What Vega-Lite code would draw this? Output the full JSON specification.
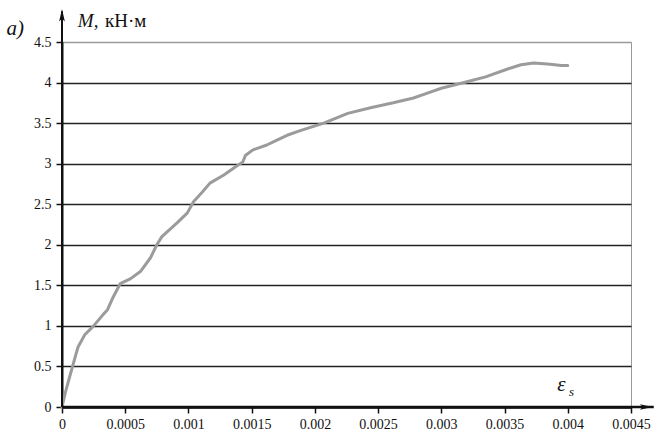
{
  "$schema": "https://vega.github.io/schema/vega-lite/v6.json",
  "width": 569,
  "height": 365,
  "autosize": "none",
  "padding": {"left": 62, "top": 42, "right": 27, "bottom": 32},
  "background": "white",
  "config": {
    "view": {"stroke": "#9a9a9a", "strokeWidth": 1},
    "font": "Liberation Serif"
  },
  "layer": [
    {
      "data": {
        "values": [
          {"eps": 0, "M": 0},
          {"eps": 0.00003, "M": 0.2},
          {"eps": 0.00006, "M": 0.37},
          {"eps": 0.000087, "M": 0.52},
          {"eps": 0.00011, "M": 0.65},
          {"eps": 0.000127, "M": 0.74},
          {"eps": 0.00018, "M": 0.89},
          {"eps": 0.00025, "M": 1.0},
          {"eps": 0.00032, "M": 1.13},
          {"eps": 0.00036, "M": 1.2},
          {"eps": 0.0004, "M": 1.34},
          {"eps": 0.00046, "M": 1.52},
          {"eps": 0.00054, "M": 1.58},
          {"eps": 0.00062, "M": 1.67},
          {"eps": 0.0007, "M": 1.84},
          {"eps": 0.00075, "M": 2.0},
          {"eps": 0.00079, "M": 2.1},
          {"eps": 0.00091, "M": 2.27},
          {"eps": 0.00099, "M": 2.39},
          {"eps": 0.00104, "M": 2.53},
          {"eps": 0.00111, "M": 2.65},
          {"eps": 0.00117, "M": 2.76},
          {"eps": 0.00128, "M": 2.86},
          {"eps": 0.00137, "M": 2.96},
          {"eps": 0.00143, "M": 3.02},
          {"eps": 0.00145, "M": 3.1},
          {"eps": 0.00151, "M": 3.17},
          {"eps": 0.00162, "M": 3.23},
          {"eps": 0.0017, "M": 3.29},
          {"eps": 0.00178, "M": 3.35},
          {"eps": 0.00189, "M": 3.41},
          {"eps": 0.00207, "M": 3.5},
          {"eps": 0.00226, "M": 3.62},
          {"eps": 0.00244, "M": 3.69},
          {"eps": 0.00262, "M": 3.75},
          {"eps": 0.00278, "M": 3.81},
          {"eps": 0.00289, "M": 3.87},
          {"eps": 0.003, "M": 3.93},
          {"eps": 0.00318, "M": 4.0},
          {"eps": 0.00335, "M": 4.07},
          {"eps": 0.00353, "M": 4.17},
          {"eps": 0.00363, "M": 4.22},
          {"eps": 0.00373, "M": 4.24},
          {"eps": 0.00384, "M": 4.23},
          {"eps": 0.00395, "M": 4.21},
          {"eps": 0.004, "M": 4.21}
        ]
      },
      "mark": {"type": "line", "color": "#9b9b9b", "strokeWidth": 3, "strokeCap": "round", "strokeJoin": "round"},
      "encoding": {
        "x": {
          "field": "eps",
          "type": "quantitative",
          "scale": {"domain": [0, 0.0045], "nice": false, "zero": true},
          "axis": {
            "title": null,
            "values": [0, 0.0005, 0.001, 0.0015, 0.002, 0.0025, 0.003, 0.0035, 0.004, 0.0045],
            "format": "~g",
            "grid": false,
            "domainColor": "#111",
            "domainWidth": 2.5,
            "tickColor": "#111",
            "tickWidth": 1.5,
            "tickSize": 6,
            "labelFont": "Liberation Serif",
            "labelFontSize": 14,
            "labelColor": "#111",
            "labelPadding": 4,
            "labelFlush": false
          }
        },
        "y": {
          "field": "M",
          "type": "quantitative",
          "scale": {"domain": [0, 4.5], "nice": false},
          "axis": {
            "title": null,
            "values": [0, 0.5, 1, 1.5, 2, 2.5, 3, 3.5, 4, 4.5],
            "format": "~g",
            "grid": true,
            "gridColor": {"condition": {"test": "datum.value >= 4.5", "value": "#9a9a9a"}, "value": "#222"},
            "gridWidth": 1.6,
            "gridOpacity": 1,
            "domainColor": "#111",
            "domainWidth": 2,
            "tickColor": "#111",
            "tickWidth": 1.5,
            "tickSize": 6,
            "labelFont": "Liberation Serif",
            "labelFontSize": 14,
            "labelColor": "#111",
            "labelPadding": 5,
            "labelFlush": false
          }
        }
      }
    },
    {
      "data": {"values": [{}]},
      "mark": {"type": "rule", "clip": false, "color": "#111", "strokeWidth": 2},
      "encoding": {
        "x": {"datum": 0, "type": "quantitative"},
        "y": {"datum": 0, "type": "quantitative"},
        "y2": {"datum": 4.88}
      }
    },
    {
      "data": {"values": [{}]},
      "mark": {"type": "rule", "clip": false, "color": "#111", "strokeWidth": 2.5},
      "encoding": {
        "x": {"datum": 0, "type": "quantitative"},
        "x2": {"datum": 0.00468},
        "y": {"datum": 0, "type": "quantitative"}
      }
    },
    {
      "data": {"values": [{}]},
      "mark": {"type": "point", "clip": false, "filled": true, "color": "#111", "opacity": 1, "size": 160, "shape": "M-0.45,1L0,-1L0.45,1L0,0.55Z"},
      "encoding": {
        "x": {"datum": 0, "type": "quantitative"},
        "y": {"datum": 4.83, "type": "quantitative"}
      }
    },
    {
      "data": {"values": [{}]},
      "mark": {"type": "point", "clip": false, "filled": true, "color": "#111", "opacity": 1, "size": 160, "shape": "M-1,-0.45L1,0L-1,0.45L-0.55,0Z"},
      "encoding": {
        "x": {"datum": 0.00462, "type": "quantitative"},
        "y": {"datum": 0, "type": "quantitative"}
      }
    },
    {
      "data": {"values": [{}]},
      "mark": {"type": "text", "text": "a)", "align": "center", "baseline": "middle", "font": "Liberation Serif", "fontStyle": "italic", "fontSize": 21, "color": "#111"},
      "encoding": {
        "x": {"datum": -0.00037, "type": "quantitative"},
        "y": {"datum": 4.66, "type": "quantitative"}
      }
    },
    {
      "data": {"values": [{}]},
      "mark": {"type": "text", "text": "M,", "align": "left", "baseline": "middle", "font": "Liberation Serif", "fontStyle": "italic", "fontSize": 19, "color": "#111"},
      "encoding": {
        "x": {"datum": 0.000125, "type": "quantitative"},
        "y": {"datum": 4.76, "type": "quantitative"}
      }
    },
    {
      "data": {"values": [{}]},
      "mark": {"type": "text", "text": "кН·м", "align": "left", "baseline": "middle", "font": "Liberation Serif", "fontSize": 19, "color": "#111"},
      "encoding": {
        "x": {"datum": 0.00034, "type": "quantitative"},
        "y": {"datum": 4.76, "type": "quantitative"}
      }
    },
    {
      "data": {"values": [{}]},
      "mark": {"type": "text", "text": "ε", "align": "center", "baseline": "middle", "font": "Liberation Serif", "fontStyle": "italic", "fontSize": 21, "color": "#111"},
      "encoding": {
        "x": {"datum": 0.00395, "type": "quantitative"},
        "y": {"datum": 0.27, "type": "quantitative"}
      }
    },
    {
      "data": {"values": [{}]},
      "mark": {"type": "text", "text": "s", "align": "center", "baseline": "middle", "font": "Liberation Serif", "fontStyle": "italic", "fontSize": 13, "color": "#111"},
      "encoding": {
        "x": {"datum": 0.00403, "type": "quantitative"},
        "y": {"datum": 0.18, "type": "quantitative"}
      }
    }
  ]
}
